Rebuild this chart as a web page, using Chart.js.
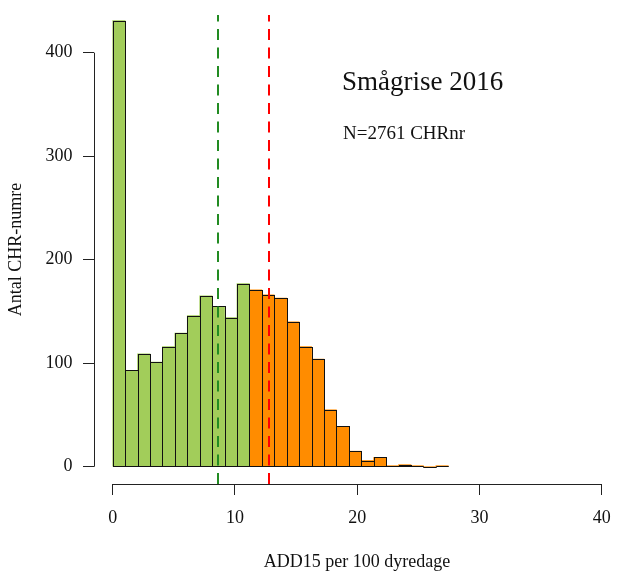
<!DOCTYPE html>
<html>
<head>
<meta charset="utf-8">
<script src="https://cdn.jsdelivr.net/npm/chart.js@4/dist/chart.umd.min.js"></script>
<style>
  body { margin: 0; background: #fff; }
  #wrap { width: 620px; height: 575px; }
</style>
</head>
<body>
<div id="wrap"><canvas id="c" width="620" height="575"></canvas></div>
<script>
// histogram counts, one per bin
const counts = [431, 93, 109, 101, 116, 129, 146, 165, 155, 144, 177,
  171, 166, 163, 140, 116, 104, 55, 39, 15, 6, 9, 1, 2, 1, 0, 1];
const binWidth = 1.0167;
const greenBins = 11; // first 11 bins are green, the rest orange
const meanValues = [8.64, 12.81];
const meanColors = ["#228B22", "#FF0000"];
const xTicks = [0, 10, 20, 30, 40];
const yTicks = [0, 100, 200, 300, 400];
const title = "Smågrise 2016";
const subtitle = "N=2761 CHRnr";
const xTitle = "ADD15 per 100 dyredage";
const yTitle = "Antal CHR-numre";

const xMin = -1.53, xMax = 41.5;
const yMin = -16.7, yMax = 436.4;
const serif = "'Liberation Serif', 'Times New Roman', serif";

const bars = counts.map((v, i) => ({ x: i * binWidth + binWidth / 2, y: v }));
const barColors = counts.map((v, i) => (i < greenBins ? "#A2CD5A" : "#FF8C00"));

// outline every bar like R's hist() does (empty bins too), then the mean lines
const histExtras = {
  id: "histExtras",
  afterDatasetsDraw(chart) {
    const ctx = chart.ctx;
    const xs = chart.scales.x;
    const area = chart.chartArea;
    ctx.save();
    ctx.strokeStyle = "#111";
    ctx.lineWidth = 1;
    chart.getDatasetMeta(0).data.forEach((el) => {
      const l = Math.round(el.x - el.width / 2) + 0.5;
      const r = Math.round(el.x + el.width / 2) + 0.5;
      const t = Math.round(el.y) + 0.5;
      const b = Math.round(el.base) + 0.5;
      ctx.strokeRect(l, t, r - l, b - t);
    });

    ctx.lineWidth = 2;
    ctx.setLineDash([11, 7.5]);
    meanValues.forEach((v, i) => {
      const px = Math.round(xs.getPixelForValue(v));
      ctx.strokeStyle = meanColors[i];
      ctx.beginPath();
      ctx.moveTo(px, area.bottom);
      ctx.lineTo(px, area.top);
      ctx.stroke();
    });
    ctx.restore();
  }
};

// R style axes: line only from first to last tick, plus the texts at the top
const rStyle = {
  id: "rStyle",
  afterDraw(chart) {
    const ctx = chart.ctx;
    const xs = chart.scales.x, ys = chart.scales.y;
    const area = chart.chartArea;
    ctx.save();
    ctx.strokeStyle = "#222";
    ctx.lineWidth = 1;
    ctx.beginPath();
    const ax = Math.round(area.left) + 0.5;
    ctx.moveTo(ax, ys.getPixelForValue(yTicks[0]));
    ctx.lineTo(ax, ys.getPixelForValue(yTicks[yTicks.length - 1]));
    const ay = Math.round(area.bottom) + 0.5;
    ctx.moveTo(xs.getPixelForValue(xTicks[0]), ay);
    ctx.lineTo(xs.getPixelForValue(xTicks[xTicks.length - 1]), ay);
    ctx.stroke();

    ctx.fillStyle = "#111";
    ctx.textAlign = "left";
    ctx.textBaseline = "alphabetic";
    ctx.font = "27px " + serif;
    ctx.fillText(title, 342, 90);
    ctx.font = "19px " + serif;
    ctx.fillText(subtitle, 343, 139);
    ctx.restore();
  }
};

const noPad = (s) => {
  s.paddingLeft = 0; s.paddingRight = 0; s.paddingTop = 0; s.paddingBottom = 0;
};

new Chart(document.getElementById("c"), {
  type: "bar",
  data: {
    datasets: [
      {
        data: bars,
        backgroundColor: barColors,
        borderWidth: 0,
        barPercentage: 1,
        categoryPercentage: 1
      }
    ]
  },
  options: {
    responsive: false,
    animation: false,
    layout: { padding: { top: 15, right: 0, left: 0, bottom: 0 } },
    plugins: { legend: { display: false }, tooltip: { enabled: false } },
    scales: {
      x: {
        type: "linear",
        min: xMin,
        max: xMax,
        offset: false,
        afterFit: (s) => { s.height = 91; noPad(s); },
        afterBuildTicks: (s) => { s.ticks = xTicks.map((v) => ({ value: v })); },
        grid: { offset: false, drawOnChartArea: false, drawTicks: true, tickLength: 11, color: "#222" },
        border: { display: false },
        ticks: { color: "#111", font: { family: serif, size: 18 }, padding: 12.5, maxRotation: 0 },
        title: { display: true, text: xTitle, color: "#111", font: { family: serif, size: 18 }, padding: { top: 0, bottom: 1.5 } }
      },
      y: {
        min: yMin,
        max: yMax,
        afterFit: (s) => { s.width = 94; noPad(s); },
        afterBuildTicks: (s) => { s.ticks = yTicks.map((v) => ({ value: v })); },
        grid: { drawOnChartArea: false, drawTicks: true, tickLength: 11, color: "#222" },
        border: { display: false },
        ticks: { color: "#111", font: { family: serif, size: 18 }, padding: 10.5 },
        title: { display: true, text: yTitle, color: "#111", font: { family: serif, size: 18 }, padding: { top: 5, bottom: 0 } }
      }
    }
  },
  plugins: [histExtras, rStyle]
});
</script>
</body>
</html>
